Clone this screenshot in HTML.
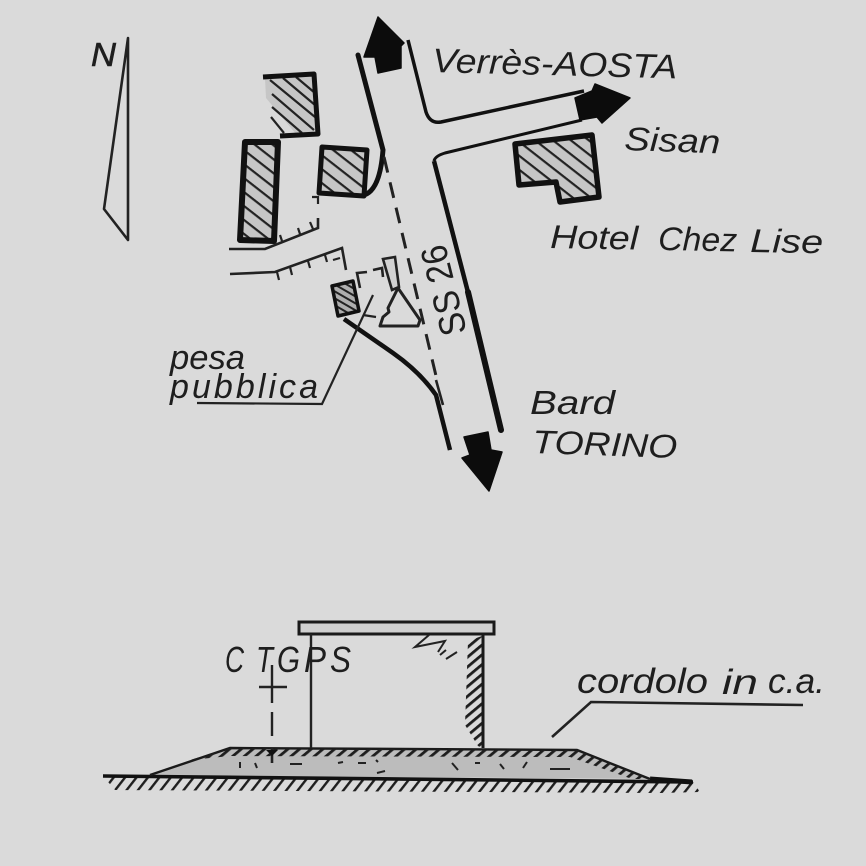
<!DOCTYPE html>
<html><head><meta charset="utf-8">
<style>html,body{margin:0;padding:0;background:#dadada}svg{display:block}
text{font-family:"Liberation Sans",sans-serif;font-style:italic;fill:#1e1e1e}</style></head>
<body>
<svg width="866" height="866" viewBox="0 0 866 866" xmlns="http://www.w3.org/2000/svg">
<defs>
<pattern id="h1" width="11" height="11" patternUnits="userSpaceOnUse" patternTransform="rotate(38)"><rect width="11" height="11" fill="#c6c6c6"/><rect width="11" height="2.2" fill="#222"/></pattern>
<pattern id="h2" width="6" height="6" patternUnits="userSpaceOnUse" patternTransform="rotate(30)"><rect width="6" height="6" fill="#aeaeae"/><rect width="6" height="2" fill="#222"/></pattern>
<pattern id="g" width="9" height="9" patternUnits="userSpaceOnUse" patternTransform="rotate(-52)"><rect width="9" height="2.4" fill="#1e1e1e"/></pattern>
<pattern id="p" width="7.5" height="7.5" patternUnits="userSpaceOnUse" patternTransform="rotate(-40)"><rect width="7.5" height="2.8" fill="#1e1e1e"/></pattern>
</defs>
<rect width="866" height="866" fill="#dadada"/>

<!-- North -->
<path d="M128 38 L104 209 L128 240 Z" fill="none" stroke="#222" stroke-width="2.6" stroke-linejoin="round"/>
<text x="91" y="66" font-size="33" textLength="25" lengthAdjust="spacingAndGlyphs" stroke="#1e1e1e" stroke-width="0.6">N</text>

<!-- buildings -->
<path d="M265 78 L314 75 L317 133 L296 134 L266 98 Z" fill="#c6c6c6"/>
<path d="M270 80 L315 117 M283 78 L315 105 M296 77 L315 93 M272 94 L314 130 M272 107 L302 133 M271 117 L284 133" stroke="#222" stroke-width="2.2" fill="none"/>
<path d="M263 77 L314 74 L318 134 L280 136" fill="none" stroke="#111" stroke-width="5" stroke-linejoin="round"/>
<path d="M245 142 L278 142 L274 241 L240 240 Z" fill="url(#h1)" stroke="#111" stroke-width="6" stroke-linejoin="round"/>
<path d="M322 147 L367 150 L364 196 L319 193 Z" fill="url(#h1)" stroke="#111" stroke-width="5" stroke-linejoin="round"/>
<path d="M515 144 L592 135 L599 197 L560 202 L556 182 L519 185 Z" fill="url(#h1)" stroke="#111" stroke-width="5.5" stroke-linejoin="round"/>
<path d="M332 286 L353 281 L359 311 L338 316 Z" fill="url(#h2)" stroke="#111" stroke-width="3.5" stroke-linejoin="round"/>

<!-- main road -->
<path d="M358 55 L383 150 Q380 190 364 195" fill="none" stroke="#111" stroke-width="5" stroke-linecap="round"/>
<path d="M408 40 L426 112 Q430 124 441 122 L584 91" fill="none" stroke="#111" stroke-width="3.5" stroke-linejoin="round"/>
<path d="M582 120 L445 153 Q435 156 434 161" fill="none" stroke="#111" stroke-width="3"/>
<path d="M434 161 L470 300" fill="none" stroke="#111" stroke-width="4.5"/>
<path d="M468 292 L501 430" fill="none" stroke="#111" stroke-width="6" stroke-linecap="round"/>
<path d="M384 157 L437 380" fill="none" stroke="#222" stroke-width="3" stroke-dasharray="16 10"/>
<path d="M344 319 L393 353 Q420 372 436 395 L450 450" fill="none" stroke="#111" stroke-width="4.5"/>
<path d="M436 380 L443 405" fill="none" stroke="#222" stroke-width="2.6"/>

<!-- arrows -->
<path d="M378 17 L404 43 L401 46 L401 68 L378 73 L375 57 L364 57 Z" fill="#0c0c0c" stroke="#0c0c0c" stroke-width="1.5" stroke-linejoin="round"/>
<path d="M630 98 L595 84 L592 91 L575 98 L580 120 L597 117 L602 123 Z" fill="#0c0c0c" stroke="#0c0c0c" stroke-width="1.5" stroke-linejoin="round"/>
<path d="M464 437 L488 432 L491 450 L502 452 L489 491 L462 458 L470 455 Z" fill="#0c0c0c" stroke="#0c0c0c" stroke-width="1.5" stroke-linejoin="round"/>

<!-- side road walls -->
<g fill="none" stroke="#222">
<path d="M229 249 L265 249 L318 228 L318 218" stroke-width="2.6"/>
<path d="M282 241 L280 235 M300 234 L298 228 M313 229 L310 222" stroke-width="2.2"/>
<path d="M312 197 L318 197 L318 204" stroke-width="2.2"/>
<path d="M230 274 L275 272 L342 248 L346 270" stroke-width="2.6"/>
<path d="M277 272 L279 280 M290 267 L292 275 M308 261 L310 268 M325 255 L327 262 M340 258 L333 260" stroke-width="2.2"/>
<path d="M360 288 L357 273 L367 272 M373 270 L382 268 L383 277" stroke-width="2.6"/>
<path d="M383 259 L395 257 L399 287 L392 290 Z" fill="#d2d2d2" stroke-width="2.6"/>
<path d="M398 288 L420 320 L418 326 L380 326 L383 317 L389 312 L388 308 Z" stroke-width="3" stroke-linejoin="round"/>
<path d="M373 295 L322 404 L197 403" stroke-width="2.2"/>
<path d="M363 315 L376 317" stroke-width="2.2"/>
</g>

<!-- labels -->
<text x="432" y="72" font-size="34" textLength="245" lengthAdjust="spacingAndGlyphs" transform="rotate(1.5 432 72)">Verrès-AOSTA</text>
<text x="624" y="150" font-size="33" textLength="96" lengthAdjust="spacingAndGlyphs" transform="rotate(2 624 150)">Sisan</text>
<text x="550" y="248" font-size="33" textLength="88" lengthAdjust="spacingAndGlyphs" transform="rotate(1 550 248)">Hotel</text>
<text x="658" y="250" font-size="33" textLength="79" lengthAdjust="spacingAndGlyphs" transform="rotate(1 658 250)">Chez</text>
<text x="750" y="252" font-size="33" textLength="73" lengthAdjust="spacingAndGlyphs" transform="rotate(1 750 252)">Lise</text>
<text x="170" y="369" font-size="34" textLength="75" lengthAdjust="spacingAndGlyphs">pesa</text>
<text x="170" y="398" font-size="34" textLength="148" lengthAdjust="spacing">pubblica</text>
<text x="530" y="414" font-size="33" textLength="85" lengthAdjust="spacingAndGlyphs">Bard</text>
<text x="532" y="453" font-size="33" textLength="145" lengthAdjust="spacingAndGlyphs" transform="rotate(2 532 453)">TORINO</text>
<text x="467" y="332" font-size="37" textLength="92" lengthAdjust="spacingAndGlyphs" transform="rotate(-104 467 332)" style="font-style:normal">SS 26</text>

<!-- section: ground and embankment -->
<path d="M150 775 L230 748 L577 750 L650 779 Z" fill="#bcbcbc"/>
<path d="M103 776 L150 776 L650 781 L693 782 L700 792 L660 793 L115 790 Z" fill="url(#g)"/>
<path d="M103 776 L693 782" stroke="#111" stroke-width="3.6" fill="none"/>
<path d="M650 779 L692 782" stroke="#111" stroke-width="5" fill="none"/>
<path d="M150 775 L230 748 L577 750 L650 779" stroke="#1a1a1a" stroke-width="2.4" fill="none"/>
<path d="M190 760 L230 748 L577 750 L650 779 L632 779 L570 757 L230 756 Z" fill="url(#p)"/>
<path d="M240 762 L240 768 M255 763 L257 768 M290 764 L302 764 M338 763 L343 762 M358 763 L366 763 M376 760 L378 762 M385 771 L377 773 M452 763 L458 770 M475 763 L480 763 M500 764 L504 769 M527 762 L523 768 M550 769 L570 769" stroke="#222" stroke-width="2" fill="none"/>

<!-- shelter -->
<rect x="299" y="622" width="195" height="12" fill="#d0d0d0" stroke="#1a1a1a" stroke-width="3"/>
<path d="M311 634 L311 748" stroke="#222" stroke-width="2.4"/>
<path d="M483 635 L483 748" stroke="#1a1a1a" stroke-width="3"/>
<path d="M468 641 L482 636 L482 748 L478 746 L465 725 Z" fill="url(#p)"/>
<path d="M429 635 L415 647 L445 641 L438 652 M440 655 L446 650 M446 659 L457 652" stroke="#222" stroke-width="2" fill="none"/>

<!-- CTGPS marker -->
<path d="M272 665 L272 703 M259 687 L287 687" stroke="#222" stroke-width="2.4"/>
<path d="M272 712 L272 736" stroke="#222" stroke-width="2.4"/>
<path d="M272 748 L272 763" stroke="#222" stroke-width="2.6"/>
<path d="M266 750 L278 750 L272 756 Z" fill="#111"/>
<text x="225" y="672" font-size="36" textLength="19" lengthAdjust="spacingAndGlyphs">C</text>
<text x="256" y="672" font-size="36" textLength="17" lengthAdjust="spacingAndGlyphs">T</text>
<text x="277" y="672" font-size="36" textLength="23" lengthAdjust="spacingAndGlyphs">G</text>
<text x="304" y="672" font-size="36" textLength="22" lengthAdjust="spacingAndGlyphs">P</text>
<text x="330" y="672" font-size="36" textLength="21" lengthAdjust="spacingAndGlyphs">S</text>

<!-- cordolo -->
<path d="M552 737 L591 702 L803 705" stroke="#222" stroke-width="2.6" fill="none"/>
<text x="577" y="693" font-size="35" textLength="131" lengthAdjust="spacingAndGlyphs">cordolo</text>
<text x="722" y="694" font-size="35" textLength="36" lengthAdjust="spacingAndGlyphs">in</text>
<text x="768" y="693" font-size="35" textLength="57" lengthAdjust="spacingAndGlyphs">c.a.</text>
</svg>
</body></html>
